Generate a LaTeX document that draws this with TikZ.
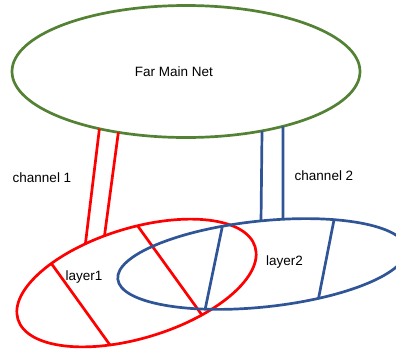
\documentclass[tikz,border=0pt]{standalone}
\usepackage{fontspec}
\setmainfont{Liberation Sans}
\usetikzlibrary{calc,intersections}
\definecolor{netgreen}{HTML}{548235}
\definecolor{netblue}{HTML}{2F5597}
\definecolor{netred}{HTML}{FF0000}
\tikzset{
  greenline/.style={draw=netgreen, line width=2.7pt},
  redline/.style={draw=netred, line width=2.7pt},
  blueline/.style={draw=netblue, line width=2.7pt},
  lbl/.style={font=\fontsize{13.5}{16}\selectfont, text=black, inner sep=0pt, anchor=base},
  guide/.style={}
}
\begin{document}
\begin{tikzpicture}[x=1pt,y=-1pt]
\useasboundingbox (0,0) rectangle (396,349);
\clip (0,0) rectangle (396,349);

% outlines of the three networks
\draw[greenline, name path=mainE] (186,71.5) ellipse [x radius=174pt, y radius=66pt];
\draw[redline, name path=redE, rotate around={17:(136.5,283)}]
  (136.5,283) ellipse [x radius=124pt, y radius=55pt];

% guide lines used to find where each stroke meets the outlines
\path[guide, name path=c1a] ($(99,132)!-0.1!(86,239)$) -- ($(86,239)!-0.1!(99,132)$);
\path[guide, name path=c1b] ($(118,135)!-0.1!(105,232)$) -- ($(105,232)!-0.1!(118,135)$);
\path[guide, name path=c2a] ($(262,133)!-0.1!(261,222)$) -- ($(261,222)!-0.1!(262,133)$);
\path[guide, name path=c2b] ($(283,129)!-0.1!(283,221)$) -- ($(283,221)!-0.1!(283,129)$);
\path[guide, name path=r1] ($(51,263)!-0.2!(110,345)$) -- ($(110,345)!-0.2!(51,263)$);
\path[guide, name path=r2] ($(137,225)!-0.2!(202,315)$) -- ($(202,315)!-0.2!(137,225)$);

\path[name intersections={of=mainE and c1a, by=c1atop}];
\path[name intersections={of=redE and c1a, by=c1abot}];
\path[name intersections={of=mainE and c1b, by=c1btop}];
\path[name intersections={of=redE and c1b, by=c1bbot}];
\path[name intersections={of=redE and r1, by={r1s,r1e}}];
\path[name intersections={of=redE and r2, by={r2s,r2e}}];

% channel 1 and the cross links of layer 1
\draw[redline] (c1atop) -- (c1abot);
\draw[redline] (c1btop) -- (c1bbot);
\draw[redline] (r1s) -- (r1e);
\draw[redline] (r2s) -- (r2e);

% layer 2 on top
\draw[blueline, name path=blueE, rotate around={6:(262,264)}]
  (262,264) ellipse [x radius=145pt, y radius=43pt];
\path[guide, name path=b1] ($(222,228)!-0.2!(205,310)$) -- ($(205,310)!-0.2!(222,228)$);
\path[guide, name path=b2] ($(333,225)!-0.2!(318,301)$) -- ($(318,301)!-0.2!(333,225)$);
\path[name intersections={of=mainE and c2a, by=c2atop}];
\path[name intersections={of=blueE and c2a, by=c2abot}];
\path[name intersections={of=mainE and c2b, by=c2btop}];
\path[name intersections={of=blueE and c2b, by=c2bbot}];
\path[name intersections={of=blueE and b1, by={b1s,b1e}}];
\path[name intersections={of=blueE and b2, by={b2s,b2e}}];

% channel 2 and the cross links of layer 2
\draw[blueline] (c2atop) -- (c2abot);
\draw[blueline] (c2btop) -- (c2bbot);
\draw[blueline] (b1s) -- (b1e);
\draw[blueline] (b2s) -- (b2e);

% labels
\node[lbl] (mainlbl) at (174,76) {Far Main Net};
\node[lbl] (ch1) at (42,182.5) {channel 1};
\node[lbl] (ch2) at (324,180.5) {channel 2};
\node[lbl] (l1) at (84,280.5) {layer1};
\node[lbl] (l2) at (284.5,265) {layer2};
\end{tikzpicture}
\end{document}
